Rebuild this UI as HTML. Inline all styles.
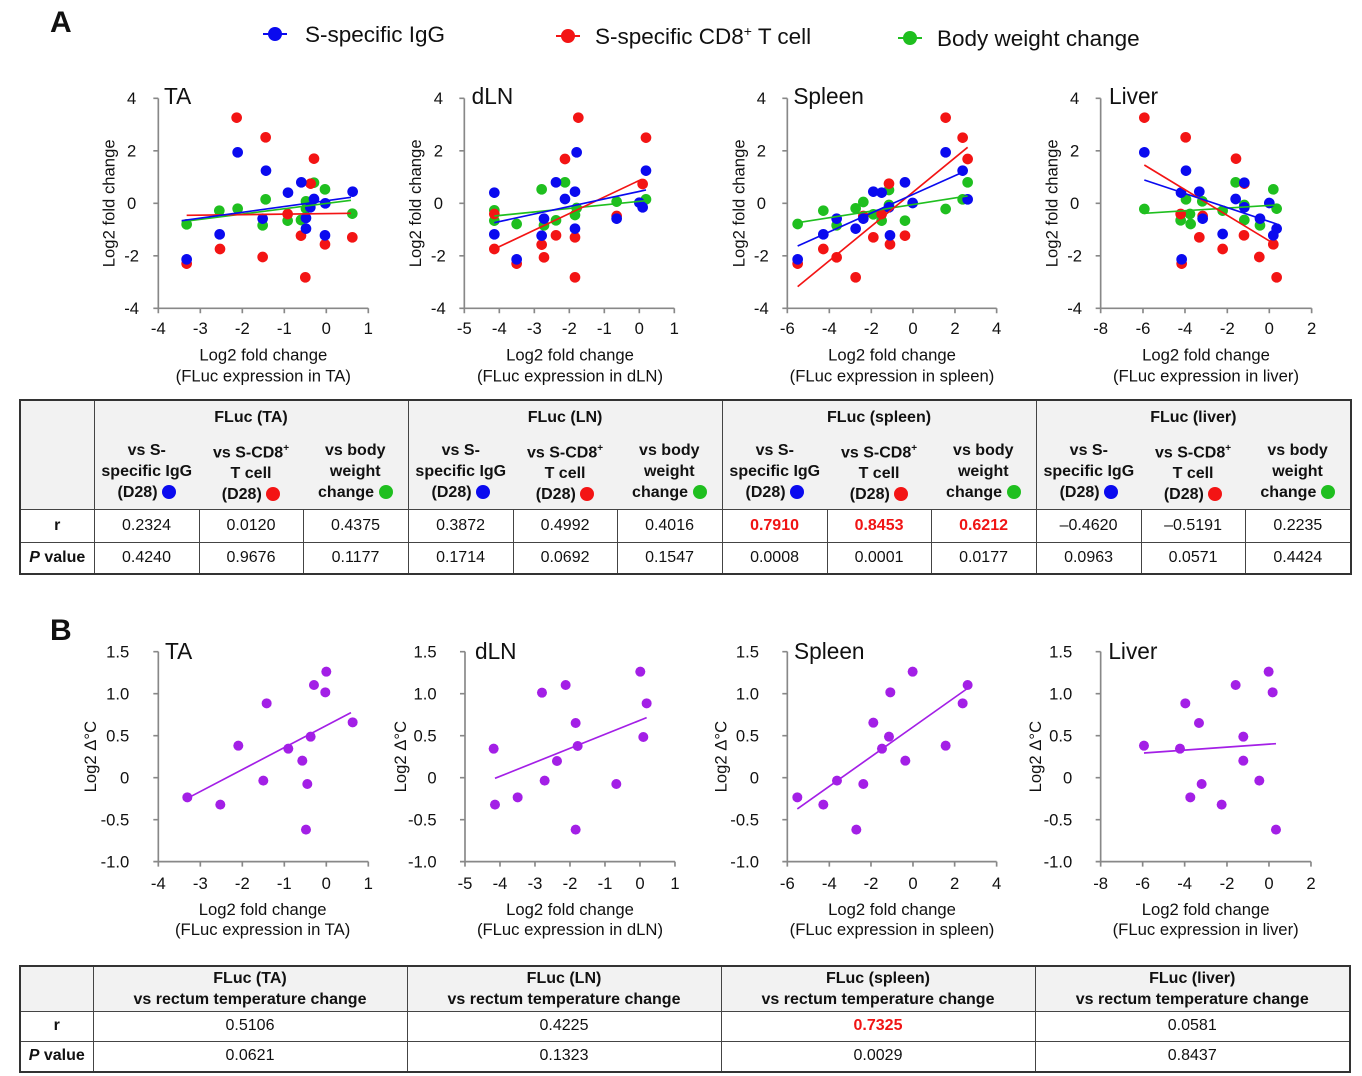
<!DOCTYPE html>
<html><head><meta charset="utf-8"><style>
body{margin:0;width:1362px;height:1076px;background:#fff;position:relative;overflow:hidden;font-family:"Liberation Sans",Arial,sans-serif;color:#111}
svg{position:absolute;left:0;top:0}
table{position:absolute;border-collapse:collapse;font-family:"Liberation Sans",Arial,sans-serif;font-size:16px;table-layout:fixed}
td{border:1px solid #444;text-align:center;padding:0;vertical-align:middle}
.h{background:#f2f2f2;font-weight:bold}
.nb{border-left:none;border-right:none}
.dot{display:inline-block;width:14px;height:14px;border-radius:50%;vertical-align:-2px}
.rd{color:#f01414;font-weight:bold}
</style></head><body>
<svg width="1362" height="1076" font-family="Liberation Sans, Arial, sans-serif" fill="#111">
<text x="50" y="32" font-size="30" font-weight="bold">A</text>
<text x="50" y="640" font-size="30" font-weight="bold">B</text>
<line x1="263" y1="34" x2="287" y2="34" stroke="#0a0aef" stroke-width="2"/><circle cx="275" cy="34" r="7" fill="#0a0aef"/>
<text x="305" y="42" font-size="22.5">S-specific IgG</text>
<line x1="556" y1="36" x2="580" y2="36" stroke="#f31414" stroke-width="2"/><circle cx="568" cy="36" r="7" fill="#f31414"/>
<text x="595" y="44" font-size="22.5">S-specific CD8<tspan font-size="14" dy="-8">+</tspan><tspan dy="8"> T cell</tspan></text>
<line x1="898" y1="38" x2="922" y2="38" stroke="#1fbf1f" stroke-width="2"/><circle cx="910" cy="38" r="7" fill="#1fbf1f"/>
<text x="937" y="46" font-size="22.5">Body weight change</text>

<!-- A TA -->
<g transform="translate(90,80) scale(0.3333)" font-size="50">
<path d="M205 55V685H835M190 55H205M190 212.5H205M190 370H205M190 527.5H205M190 685H205M205 685V700M331 685V700M457 685V700M583 685V700M709 685V700M835 685V700" stroke="#888" stroke-width="5" fill="none"/>
<g text-anchor="middle"><text x="125" y="72">4</text><text x="125" y="230">2</text><text x="125" y="387">0</text><text x="125" y="545">-2</text><text x="125" y="702">-4</text>
<text x="205" y="762">-4</text><text x="331" y="762">-3</text><text x="457" y="762">-2</text><text x="583" y="762">-1</text><text x="709" y="762">0</text><text x="835" y="762">1</text>
<text x="520" y="842">Log2 fold change</text><text x="520" y="905">(FLuc expression in TA)</text>
<text transform="rotate(-90 73 370)" x="73" y="370">Log2 fold change</text></g>
<text x="222" y="72" font-size="68">TA</text>
<g fill="#1fbf1f"><circle cx="290" cy="433" r="16"/><circle cx="388" cy="392" r="16"/><circle cx="443" cy="386" r="16"/><circle cx="527" cy="358" r="16"/><circle cx="518" cy="436" r="16"/><circle cx="593" cy="422" r="16"/><circle cx="633" cy="420" r="16"/><circle cx="672" cy="308" r="16"/><circle cx="705" cy="328" r="16"/><circle cx="648" cy="364" r="16"/><circle cx="648" cy="386" r="16"/><circle cx="787" cy="401" r="16"/></g>
<g fill="#f31414"><circle cx="440" cy="113" r="16"/><circle cx="527" cy="172" r="16"/><circle cx="672" cy="236" r="16"/><circle cx="662" cy="311" r="16"/><circle cx="593" cy="402" r="16"/><circle cx="633" cy="467" r="16"/><circle cx="705" cy="493" r="16"/><circle cx="787" cy="472" r="16"/><circle cx="390" cy="507" r="16"/><circle cx="518" cy="531" r="16"/><circle cx="290" cy="551" r="16"/><circle cx="646" cy="592" r="16"/></g>
<g fill="#0a0aef"><circle cx="443" cy="217" r="16"/><circle cx="528" cy="272" r="16"/><circle cx="634" cy="307" r="16"/><circle cx="594" cy="338" r="16"/><circle cx="672" cy="357" r="16"/><circle cx="788" cy="335" r="16"/><circle cx="661" cy="382" r="16"/><circle cx="706" cy="370" r="16"/><circle cx="518" cy="416" r="16"/><circle cx="648" cy="414" r="16"/><circle cx="648" cy="446" r="16"/><circle cx="389" cy="463" r="16"/><circle cx="705" cy="466" r="16"/><circle cx="290" cy="538" r="16"/></g>
<line x1="275" y1="425" x2="783" y2="361" stroke="#1fbf1f" stroke-width="5"/><line x1="290" y1="406" x2="783" y2="400" stroke="#f31414" stroke-width="5"/><line x1="275" y1="422" x2="783" y2="352" stroke="#0a0aef" stroke-width="5"/>
</g>

<!-- A dLN -->
<g transform="translate(400,80) scale(0.3333)" font-size="50">
<path d="M193 55V685H823M178 55H193M178 212.5H193M178 370H193M178 527.5H193M178 685H193M193 685V700M298 685V700M403 685V700M508 685V700M613 685V700M718 685V700M823 685V700" stroke="#888" stroke-width="5" fill="none"/>
<g text-anchor="middle"><text x="115" y="72">4</text><text x="115" y="230">2</text><text x="115" y="387">0</text><text x="115" y="545">-2</text><text x="115" y="702">-4</text>
<text x="193" y="762">-5</text><text x="298" y="762">-4</text><text x="403" y="762">-3</text><text x="508" y="762">-2</text><text x="613" y="762">-1</text><text x="718" y="762">0</text><text x="823" y="762">1</text>
<text x="510" y="842">Log2 fold change</text><text x="510" y="905">(FLuc expression in dLN)</text>
<text transform="rotate(-90 63 370)" x="63" y="370">Log2 fold change</text></g>
<text x="215" y="72" font-size="68">dLN</text>
<g fill="#1fbf1f"><circle cx="425" cy="328" r="16"/><circle cx="495" cy="307" r="16"/><circle cx="283" cy="391" r="16"/><circle cx="283" cy="422" r="16"/><circle cx="350" cy="432" r="16"/><circle cx="432" cy="436" r="16"/><circle cx="468" cy="421" r="16"/><circle cx="530" cy="384" r="16"/><circle cx="525" cy="405" r="16"/><circle cx="650" cy="365" r="16"/><circle cx="738" cy="358" r="16"/></g>
<g fill="#f31414"><circle cx="535" cy="113" r="16"/><circle cx="738" cy="173" r="16"/><circle cx="495" cy="237" r="16"/><circle cx="728" cy="312" r="16"/><circle cx="283" cy="402" r="16"/><circle cx="650" cy="408" r="16"/><circle cx="468" cy="466" r="16"/><circle cx="525" cy="472" r="16"/><circle cx="425" cy="494" r="16"/><circle cx="283" cy="507" r="16"/><circle cx="432" cy="532" r="16"/><circle cx="350" cy="551" r="16"/><circle cx="525" cy="592" r="16"/></g>
<g fill="#0a0aef"><circle cx="530" cy="217" r="16"/><circle cx="738" cy="272" r="16"/><circle cx="283" cy="338" r="16"/><circle cx="468" cy="307" r="16"/><circle cx="525" cy="335" r="16"/><circle cx="495" cy="357" r="16"/><circle cx="718" cy="368" r="16"/><circle cx="728" cy="382" r="16"/><circle cx="432" cy="416" r="16"/><circle cx="650" cy="416" r="16"/><circle cx="525" cy="446" r="16"/><circle cx="283" cy="463" r="16"/><circle cx="425" cy="467" r="16"/><circle cx="350" cy="538" r="16"/></g>
<line x1="283" y1="408" x2="738" y2="362" stroke="#1fbf1f" stroke-width="5"/><line x1="283" y1="507" x2="725" y2="298" stroke="#f31414" stroke-width="5"/><line x1="283" y1="428" x2="738" y2="330" stroke="#0a0aef" stroke-width="5"/>
</g>

<!-- A Spleen -->
<g transform="translate(710,80) scale(0.3333)" font-size="50">
<path d="M232 55V685H860M217 55H232M217 212.5H232M217 370H232M217 527.5H232M217 685H232M232 685V700M358 685V700M484 685V700M609 685V700M735 685V700M860 685V700" stroke="#888" stroke-width="5" fill="none"/>
<g text-anchor="middle"><text x="154" y="72">4</text><text x="154" y="230">2</text><text x="154" y="387">0</text><text x="154" y="545">-2</text><text x="154" y="702">-4</text>
<text x="232" y="762">-6</text><text x="358" y="762">-4</text><text x="484" y="762">-2</text><text x="609" y="762">0</text><text x="735" y="762">2</text><text x="860" y="762">4</text>
<text x="546" y="842">Log2 fold change</text><text x="546" y="905">(FLuc expression in spleen)</text>
<text transform="rotate(-90 103 370)" x="103" y="370">Log2 fold change</text></g>
<text x="250" y="72" font-size="68">Spleen</text>
<g fill="#1fbf1f"><circle cx="263" cy="432" r="16"/><circle cx="340" cy="392" r="16"/><circle cx="380" cy="436" r="16"/><circle cx="437" cy="385" r="16"/><circle cx="460" cy="366" r="16"/><circle cx="490" cy="403" r="16"/><circle cx="515" cy="422" r="16"/><circle cx="537" cy="330" r="16"/><circle cx="585" cy="422" r="16"/><circle cx="707" cy="387" r="16"/><circle cx="758" cy="358" r="16"/><circle cx="773" cy="307" r="16"/><circle cx="537" cy="375" r="16"/></g>
<g fill="#f31414"><circle cx="707" cy="113" r="16"/><circle cx="758" cy="173" r="16"/><circle cx="773" cy="237" r="16"/><circle cx="537" cy="311" r="16"/><circle cx="263" cy="551" r="16"/><circle cx="340" cy="507" r="16"/><circle cx="380" cy="532" r="16"/><circle cx="437" cy="592" r="16"/><circle cx="490" cy="472" r="16"/><circle cx="515" cy="402" r="16"/><circle cx="540" cy="493" r="16"/><circle cx="585" cy="467" r="16"/><circle cx="460" cy="408" r="16"/></g>
<g fill="#0a0aef"><circle cx="707" cy="217" r="16"/><circle cx="758" cy="272" r="16"/><circle cx="585" cy="307" r="16"/><circle cx="490" cy="335" r="16"/><circle cx="515" cy="338" r="16"/><circle cx="537" cy="382" r="16"/><circle cx="608" cy="369" r="16"/><circle cx="263" cy="538" r="16"/><circle cx="340" cy="463" r="16"/><circle cx="380" cy="416" r="16"/><circle cx="437" cy="446" r="16"/><circle cx="460" cy="416" r="16"/><circle cx="540" cy="466" r="16"/><circle cx="773" cy="358" r="16"/></g>
<line x1="263" y1="428" x2="773" y2="348" stroke="#1fbf1f" stroke-width="5"/><line x1="263" y1="620" x2="773" y2="202" stroke="#f31414" stroke-width="5"/><line x1="263" y1="498" x2="773" y2="270" stroke="#0a0aef" stroke-width="5"/>
</g>

<!-- A Liver -->
<g transform="translate(1030,80) scale(0.3333)" font-size="50">
<path d="M212 55V685H845M197 55H212M197 212.5H212M197 370H212M197 527.5H212M197 685H212M212 685V700M339 685V700M465 685V700M592 685V700M718 685V700M845 685V700" stroke="#888" stroke-width="5" fill="none"/>
<g text-anchor="middle"><text x="134" y="72">4</text><text x="134" y="230">2</text><text x="134" y="387">0</text><text x="134" y="545">-2</text><text x="134" y="702">-4</text>
<text x="212" y="762">-8</text><text x="339" y="762">-6</text><text x="465" y="762">-4</text><text x="592" y="762">-2</text><text x="718" y="762">0</text><text x="845" y="762">2</text>
<text x="528" y="842">Log2 fold change</text><text x="528" y="905">(FLuc expression in liver)</text>
<text transform="rotate(-90 83 370)" x="83" y="370">Log2 fold change</text></g>
<text x="237" y="72" font-size="68">Liver</text>
<g fill="#1fbf1f"><circle cx="343" cy="387" r="16"/><circle cx="468" cy="358" r="16"/><circle cx="517" cy="364" r="16"/><circle cx="452" cy="421" r="16"/><circle cx="482" cy="432" r="16"/><circle cx="578" cy="392" r="16"/><circle cx="617" cy="307" r="16"/><circle cx="643" cy="375" r="16"/><circle cx="643" cy="420" r="16"/><circle cx="690" cy="436" r="16"/><circle cx="730" cy="328" r="16"/><circle cx="740" cy="386" r="16"/><circle cx="480" cy="402" r="16"/></g>
<g fill="#f31414"><circle cx="343" cy="113" r="16"/><circle cx="467" cy="172" r="16"/><circle cx="618" cy="236" r="16"/><circle cx="643" cy="311" r="16"/><circle cx="452" cy="402" r="16"/><circle cx="518" cy="408" r="16"/><circle cx="508" cy="472" r="16"/><circle cx="642" cy="466" r="16"/><circle cx="578" cy="507" r="16"/><circle cx="730" cy="493" r="16"/><circle cx="688" cy="531" r="16"/><circle cx="455" cy="551" r="16"/><circle cx="740" cy="592" r="16"/></g>
<g fill="#0a0aef"><circle cx="343" cy="217" r="16"/><circle cx="468" cy="272" r="16"/><circle cx="453" cy="338" r="16"/><circle cx="508" cy="335" r="16"/><circle cx="617" cy="357" r="16"/><circle cx="643" cy="308" r="16"/><circle cx="643" cy="382" r="16"/><circle cx="718" cy="369" r="16"/><circle cx="518" cy="416" r="16"/><circle cx="578" cy="462" r="16"/><circle cx="690" cy="416" r="16"/><circle cx="730" cy="466" r="16"/><circle cx="740" cy="446" r="16"/><circle cx="455" cy="538" r="16"/></g>
<line x1="343" y1="400" x2="740" y2="375" stroke="#1fbf1f" stroke-width="5"/><line x1="343" y1="255" x2="730" y2="490" stroke="#f31414" stroke-width="5"/><line x1="343" y1="300" x2="740" y2="432" stroke="#0a0aef" stroke-width="5"/>
</g>

<!-- B plots -->
<g transform="translate(70,635) scale(0.3333)" font-size="50">
<path d="M265 50V680H895M250 50H265M250 176H265M250 302H265M250 428H265M250 554H265M250 680H265M265 680V695M391 680V695M517 680V695M643 680V695M769 680V695M895 680V695" stroke="#888" stroke-width="5" fill="none"/>
<g text-anchor="end"><text x="178" y="67">1.5</text><text x="178" y="193">1.0</text><text x="178" y="319">0.5</text><text x="178" y="445">0</text><text x="178" y="571">-0.5</text><text x="178" y="697">-1.0</text></g>
<g text-anchor="middle"><text x="265" y="762">-4</text><text x="391" y="762">-3</text><text x="517" y="762">-2</text><text x="643" y="762">-1</text><text x="769" y="762">0</text><text x="895" y="762">1</text>
<text x="578" y="840">Log2 fold change</text><text x="578" y="900">(FLuc expression in TA)</text>
<text transform="rotate(-90 78 365)" x="78" y="365">Log2 Δ°C</text></g>
<text x="285" y="72" font-size="68">TA</text>
<g fill="#a31fe6"><circle cx="352" cy="487" r="15"/><circle cx="451" cy="509" r="15"/><circle cx="505" cy="332" r="15"/><circle cx="590" cy="205" r="15"/><circle cx="580" cy="437" r="15"/><circle cx="655" cy="341" r="15"/><circle cx="697" cy="377" r="15"/><circle cx="712" cy="447" r="15"/><circle cx="708" cy="584" r="15"/><circle cx="722" cy="305" r="15"/><circle cx="732" cy="150" r="15"/><circle cx="766" cy="172" r="15"/><circle cx="769" cy="110" r="15"/><circle cx="848" cy="262" r="15"/></g>
<line x1="352" y1="490" x2="843" y2="233" stroke="#a31fe6" stroke-width="5"/>
</g>
<g transform="translate(385,635) scale(0.3333)" font-size="50">
<path d="M240 50V680H870M225 50H240M225 176H240M225 302H240M225 428H240M225 554H240M225 680H240M240 680V695M345 680V695M450 680V695M555 680V695M660 680V695M765 680V695M870 680V695" stroke="#888" stroke-width="5" fill="none"/>
<g text-anchor="end"><text x="155" y="67">1.5</text><text x="155" y="193">1.0</text><text x="155" y="319">0.5</text><text x="155" y="445">0</text><text x="155" y="571">-0.5</text><text x="155" y="697">-1.0</text></g>
<g text-anchor="middle"><text x="240" y="762">-5</text><text x="345" y="762">-4</text><text x="450" y="762">-3</text><text x="555" y="762">-2</text><text x="660" y="762">-1</text><text x="765" y="762">0</text><text x="870" y="762">1</text>
<text x="555" y="840">Log2 fold change</text><text x="555" y="900">(FLuc expression in dLN)</text>
<text transform="rotate(-90 63 365)" x="63" y="365">Log2 Δ°C</text></g>
<text x="270" y="72" font-size="68">dLN</text>
<g fill="#a31fe6"><circle cx="326" cy="341" r="15"/><circle cx="330" cy="509" r="15"/><circle cx="398" cy="487" r="15"/><circle cx="471" cy="173" r="15"/><circle cx="479" cy="437" r="15"/><circle cx="516" cy="378" r="15"/><circle cx="542" cy="150" r="15"/><circle cx="572" cy="264" r="15"/><circle cx="578" cy="333" r="15"/><circle cx="572" cy="584" r="15"/><circle cx="694" cy="447" r="15"/><circle cx="766" cy="110" r="15"/><circle cx="775" cy="306" r="15"/><circle cx="785" cy="205" r="15"/></g>
<line x1="330" y1="430" x2="785" y2="248" stroke="#a31fe6" stroke-width="5"/>
</g>
<g transform="translate(700,635) scale(0.3333)" font-size="50">
<path d="M262 50V680H890M247 50H262M247 176H262M247 302H262M247 428H262M247 554H262M247 680H262M262 680V695M388 680V695M513 680V695M639 680V695M764 680V695M890 680V695" stroke="#888" stroke-width="5" fill="none"/>
<g text-anchor="end"><text x="177" y="67">1.5</text><text x="177" y="193">1.0</text><text x="177" y="319">0.5</text><text x="177" y="445">0</text><text x="177" y="571">-0.5</text><text x="177" y="697">-1.0</text></g>
<g text-anchor="middle"><text x="262" y="762">-6</text><text x="388" y="762">-4</text><text x="513" y="762">-2</text><text x="639" y="762">0</text><text x="764" y="762">2</text><text x="890" y="762">4</text>
<text x="576" y="840">Log2 fold change</text><text x="576" y="900">(FLuc expression in spleen)</text>
<text transform="rotate(-90 80 365)" x="80" y="365">Log2 Δ°C</text></g>
<text x="282" y="72" font-size="68">Spleen</text>
<g fill="#a31fe6"><circle cx="292" cy="487" r="15"/><circle cx="370" cy="509" r="15"/><circle cx="411" cy="437" r="15"/><circle cx="469" cy="584" r="15"/><circle cx="490" cy="447" r="15"/><circle cx="520" cy="263" r="15"/><circle cx="546" cy="341" r="15"/><circle cx="567" cy="305" r="15"/><circle cx="571" cy="172" r="15"/><circle cx="616" cy="377" r="15"/><circle cx="638" cy="110" r="15"/><circle cx="737" cy="332" r="15"/><circle cx="788" cy="205" r="15"/><circle cx="803" cy="150" r="15"/></g>
<line x1="292" y1="522" x2="800" y2="162" stroke="#a31fe6" stroke-width="5"/>
</g>
<g transform="translate(1020,635) scale(0.3333)" font-size="50">
<path d="M242 50V680H873M227 50H242M227 176H242M227 302H242M227 428H242M227 554H242M227 680H242M242 680V695M368 680V695M494 680V695M621 680V695M747 680V695M873 680V695" stroke="#888" stroke-width="5" fill="none"/>
<g text-anchor="end"><text x="157" y="67">1.5</text><text x="157" y="193">1.0</text><text x="157" y="319">0.5</text><text x="157" y="445">0</text><text x="157" y="571">-0.5</text><text x="157" y="697">-1.0</text></g>
<g text-anchor="middle"><text x="242" y="762">-8</text><text x="368" y="762">-6</text><text x="494" y="762">-4</text><text x="621" y="762">-2</text><text x="747" y="762">0</text><text x="873" y="762">2</text>
<text x="557" y="840">Log2 fold change</text><text x="557" y="900">(FLuc expression in liver)</text>
<text transform="rotate(-90 63 365)" x="63" y="365">Log2 Δ°C</text></g>
<text x="265" y="72" font-size="68">Liver</text>
<g fill="#a31fe6"><circle cx="372" cy="332" r="15"/><circle cx="480" cy="341" r="15"/><circle cx="496" cy="205" r="15"/><circle cx="511" cy="487" r="15"/><circle cx="537" cy="264" r="15"/><circle cx="545" cy="447" r="15"/><circle cx="605" cy="509" r="15"/><circle cx="647" cy="150" r="15"/><circle cx="670" cy="305" r="15"/><circle cx="670" cy="377" r="15"/><circle cx="718" cy="437" r="15"/><circle cx="746" cy="110" r="15"/><circle cx="758" cy="172" r="15"/><circle cx="768" cy="584" r="15"/></g>
<line x1="372" y1="354" x2="768" y2="326" stroke="#a31fe6" stroke-width="5"/>
</g>
</svg>

<table style="left:19px;top:399px;width:1332px;border:2px solid #333">
<colgroup><col style="width:74px"><col style="width:105px"><col style="width:104px"><col style="width:105px"><col style="width:105px"><col style="width:104px"><col style="width:105px"><col style="width:105px"><col style="width:104px"><col style="width:105px"><col style="width:105px"><col style="width:104px"><col style="width:106px"></colgroup>
<tr style="height:35px"><td class="h" rowspan="2"></td><td class="h" colspan="3" style="border-bottom:none">FLuc (TA)</td><td class="h" colspan="3" style="border-bottom:none">FLuc (LN)</td><td class="h" colspan="3" style="border-bottom:none">FLuc (spleen)</td><td class="h" colspan="3" style="border-bottom:none">FLuc (liver)</td></tr>
<tr style="height:74px;line-height:21px">
<td class="h" style="border-top:none;border-right:none">vs S-<br>specific IgG<br>(D28) <span class="dot" style="background:#0a0aef"></span></td>
<td class="h nb" style="border-top:none">vs S-CD8<sup style="font-size:10px">+</sup><br>T cell<br>(D28) <span class="dot" style="background:#f31414"></span></td>
<td class="h" style="border-top:none;border-left:none">vs body<br>weight<br>change <span class="dot" style="background:#1fbf1f"></span></td>
<td class="h" style="border-top:none;border-right:none">vs S-<br>specific IgG<br>(D28) <span class="dot" style="background:#0a0aef"></span></td>
<td class="h nb" style="border-top:none">vs S-CD8<sup style="font-size:10px">+</sup><br>T cell<br>(D28) <span class="dot" style="background:#f31414"></span></td>
<td class="h" style="border-top:none;border-left:none">vs body<br>weight<br>change <span class="dot" style="background:#1fbf1f"></span></td>
<td class="h" style="border-top:none;border-right:none">vs S-<br>specific IgG<br>(D28) <span class="dot" style="background:#0a0aef"></span></td>
<td class="h nb" style="border-top:none">vs S-CD8<sup style="font-size:10px">+</sup><br>T cell<br>(D28) <span class="dot" style="background:#f31414"></span></td>
<td class="h" style="border-top:none;border-left:none">vs body<br>weight<br>change <span class="dot" style="background:#1fbf1f"></span></td>
<td class="h" style="border-top:none;border-right:none">vs S-<br>specific IgG<br>(D28) <span class="dot" style="background:#0a0aef"></span></td>
<td class="h nb" style="border-top:none">vs S-CD8<sup style="font-size:10px">+</sup><br>T cell<br>(D28) <span class="dot" style="background:#f31414"></span></td>
<td class="h" style="border-top:none;border-left:none">vs body<br>weight<br>change <span class="dot" style="background:#1fbf1f"></span></td></tr>
<tr style="height:33px"><td style="font-weight:bold">r</td><td>0.2324</td><td>0.0120</td><td>0.4375</td><td>0.3872</td><td>0.4992</td><td>0.4016</td><td class="rd">0.7910</td><td class="rd">0.8453</td><td class="rd">0.6212</td><td>–0.4620</td><td>–0.5191</td><td>0.2235</td></tr>
<tr style="height:32px"><td style="font-weight:bold"><i>P</i> value</td><td>0.4240</td><td>0.9676</td><td>0.1177</td><td>0.1714</td><td>0.0692</td><td>0.1547</td><td>0.0008</td><td>0.0001</td><td>0.0177</td><td>0.0963</td><td>0.0571</td><td>0.4424</td></tr>
</table>

<table style="left:19px;top:965px;width:1330px;border:2px solid #333">
<colgroup><col style="width:73px"><col style="width:314px"><col style="width:314px"><col style="width:314px"><col style="width:315px"></colgroup>
<tr style="height:45px;line-height:21px"><td class="h"></td><td class="h">FLuc (TA)<br>vs rectum temperature change</td><td class="h">FLuc (LN)<br>vs rectum temperature change</td><td class="h">FLuc (spleen)<br>vs rectum temperature change</td><td class="h">FLuc (liver)<br>vs rectum temperature change</td></tr>
<tr style="height:30px"><td style="font-weight:bold">r</td><td>0.5106</td><td>0.4225</td><td class="rd">0.7325</td><td>0.0581</td></tr>
<tr style="height:31px"><td style="font-weight:bold"><i>P</i> value</td><td>0.0621</td><td>0.1323</td><td>0.0029</td><td>0.8437</td></tr>
</table>
</body></html>
